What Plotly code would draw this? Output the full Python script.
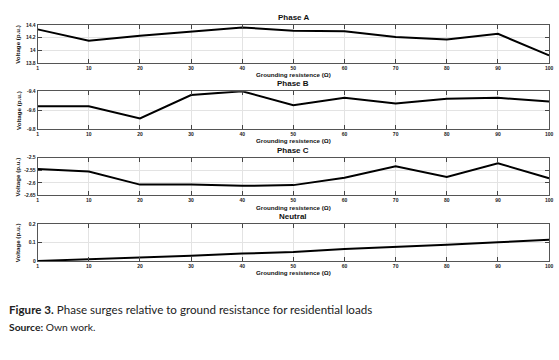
import plotly.graph_objects as go

resistance = ["1", "10", "20", "30", "40", "50", "60", "70", "80", "90", "100"]
phase_a = [14.33, 14.15, 14.23, 14.30, 14.36, 14.31, 14.30, 14.21, 14.17, 14.26, 13.92]
phase_b = [-9.56, -9.56, -9.69, -9.44, -9.40, -9.55, -9.47, -9.53, -9.48, -9.47, -9.51]
phase_c = [-2.545, -2.555, -2.607, -2.607, -2.612, -2.609, -2.58, -2.534, -2.577, -2.522, -2.582]
neutral = [0.0, 0.0085, 0.019, 0.028, 0.040, 0.048, 0.064, 0.078, 0.088, 0.101, 0.115]

panels = [
    ("Phase A", phase_a, [13.8, 14.4], [13.8, 14, 14.2, 14.4], ["13.8", "14", "14.2", "14.4"]),
    ("Phase B", phase_b, [-9.8, -9.4], [-9.8, -9.6, -9.4], ["-9.8", "-9.6", "-9.4"]),
    ("Phase C", phase_c, [-2.65, -2.5], [-2.65, -2.6, -2.55, -2.5], ["-2.65", "-2.6", "-2.55", "-2.5"]),
    ("Neutral", neutral, [0, 0.2], [0, 0.1, 0.2], ["0", "0.1", "0.2"]),
]

W, H = 559, 360
tops = [22.3, 89.7, 157.3, 224.7]
bots = [61.0, 128.0, 195.7, 262.3]
x0, x1 = 37 / W, 553 / W

fig = go.Figure()
annotations = []
tickfont = dict(family="Arial", size=5, color="#222")
for i, (name, vals, rng, tv, tt) in enumerate(panels):
    n = "" if i == 0 else str(i + 1)
    fig.add_trace(go.Scatter(x=resistance, y=vals, mode="lines",
                             line=dict(color="black", width=2),
                             xaxis="x" + n, yaxis="y" + n, showlegend=False,
                             hoverinfo="skip"))
    dom = [(H - bots[i]) / H, (H - tops[i]) / H]
    fig.update_layout(**{
        "xaxis" + n: dict(domain=[x0, x1], anchor="y" + n, type="category",
                          range=[0, 10], tickvals=resistance,
                          ticktext=["<b>" + r + "</b>" for r in resistance],
                          showgrid=True, gridcolor="#e3e3e3",
                          gridwidth=1, showline=True, linecolor="#555",
                          linewidth=1, mirror="ticks", ticks="inside",
                          ticklen=4, tickcolor="#444", tickfont=tickfont,
                          zeroline=False),
        "yaxis" + n: dict(domain=dom, anchor="x" + n, range=rng,
                          tickvals=tv, ticktext=["<b>" + t + "</b>" for t in tt],
                          showgrid=True,
                          gridcolor="#e3e3e3", showline=True, linecolor="#555",
                          linewidth=1, mirror="ticks", ticks="inside",
                          ticklen=4, tickcolor="#444", tickfont=tickfont,
                          zeroline=False),
    })
    annotations.append(dict(text="<b>" + name + "</b>", x=(x0 + x1) / 2,
                            y=(H - (tops[i] - 7.5)) / H, xref="paper", yref="paper",
                            xanchor="center", yanchor="middle", showarrow=False,
                            font=dict(family="Arial", size=8, color="#111")))
    annotations.append(dict(text="<b>Grounding resistence (Ω)</b>", x=(x0 + x1) / 2,
                            y=(H - (bots[i] + 12)) / H, xref="paper", yref="paper",
                            xanchor="center", yanchor="middle", showarrow=False,
                            font=dict(family="Arial", size=6.2, color="#111")))
    annotations.append(dict(text="<b>Voltage (p.u.)</b>", x=17 / W,
                            y=(H - (tops[i] + bots[i]) / 2) / H, xref="paper",
                            yref="paper", xanchor="center", yanchor="middle",
                            textangle=-90, showarrow=False,
                            font=dict(family="Arial", size=6.2, color="#111")))

annotations.append(dict(text="<b>Figure 3.</b> Phase surges relative to ground resistance for residential loads",
                        x=6 / W, y=(H - 312) / H, xref="paper", yref="paper",
                        xanchor="left", yanchor="middle", showarrow=False,
                        font=dict(family="Lato", size=11.6, color="#222")))
annotations.append(dict(text="<b>Source:</b> Own work.",
                        x=6 / W, y=(H - 329) / H, xref="paper", yref="paper",
                        xanchor="left", yanchor="middle", showarrow=False,
                        font=dict(family="Lato", size=10.3, color="#222")))

fig.update_layout(width=W, height=H, margin=dict(l=0, r=0, t=0, b=0),
                  paper_bgcolor="white", plot_bgcolor="white",
                  annotations=annotations, hovermode=False)
fig.write_html("out.html", config={"displayModeBar": False},
               post_script="document.body.style.margin='0';document.body.style.overflow='hidden';")
